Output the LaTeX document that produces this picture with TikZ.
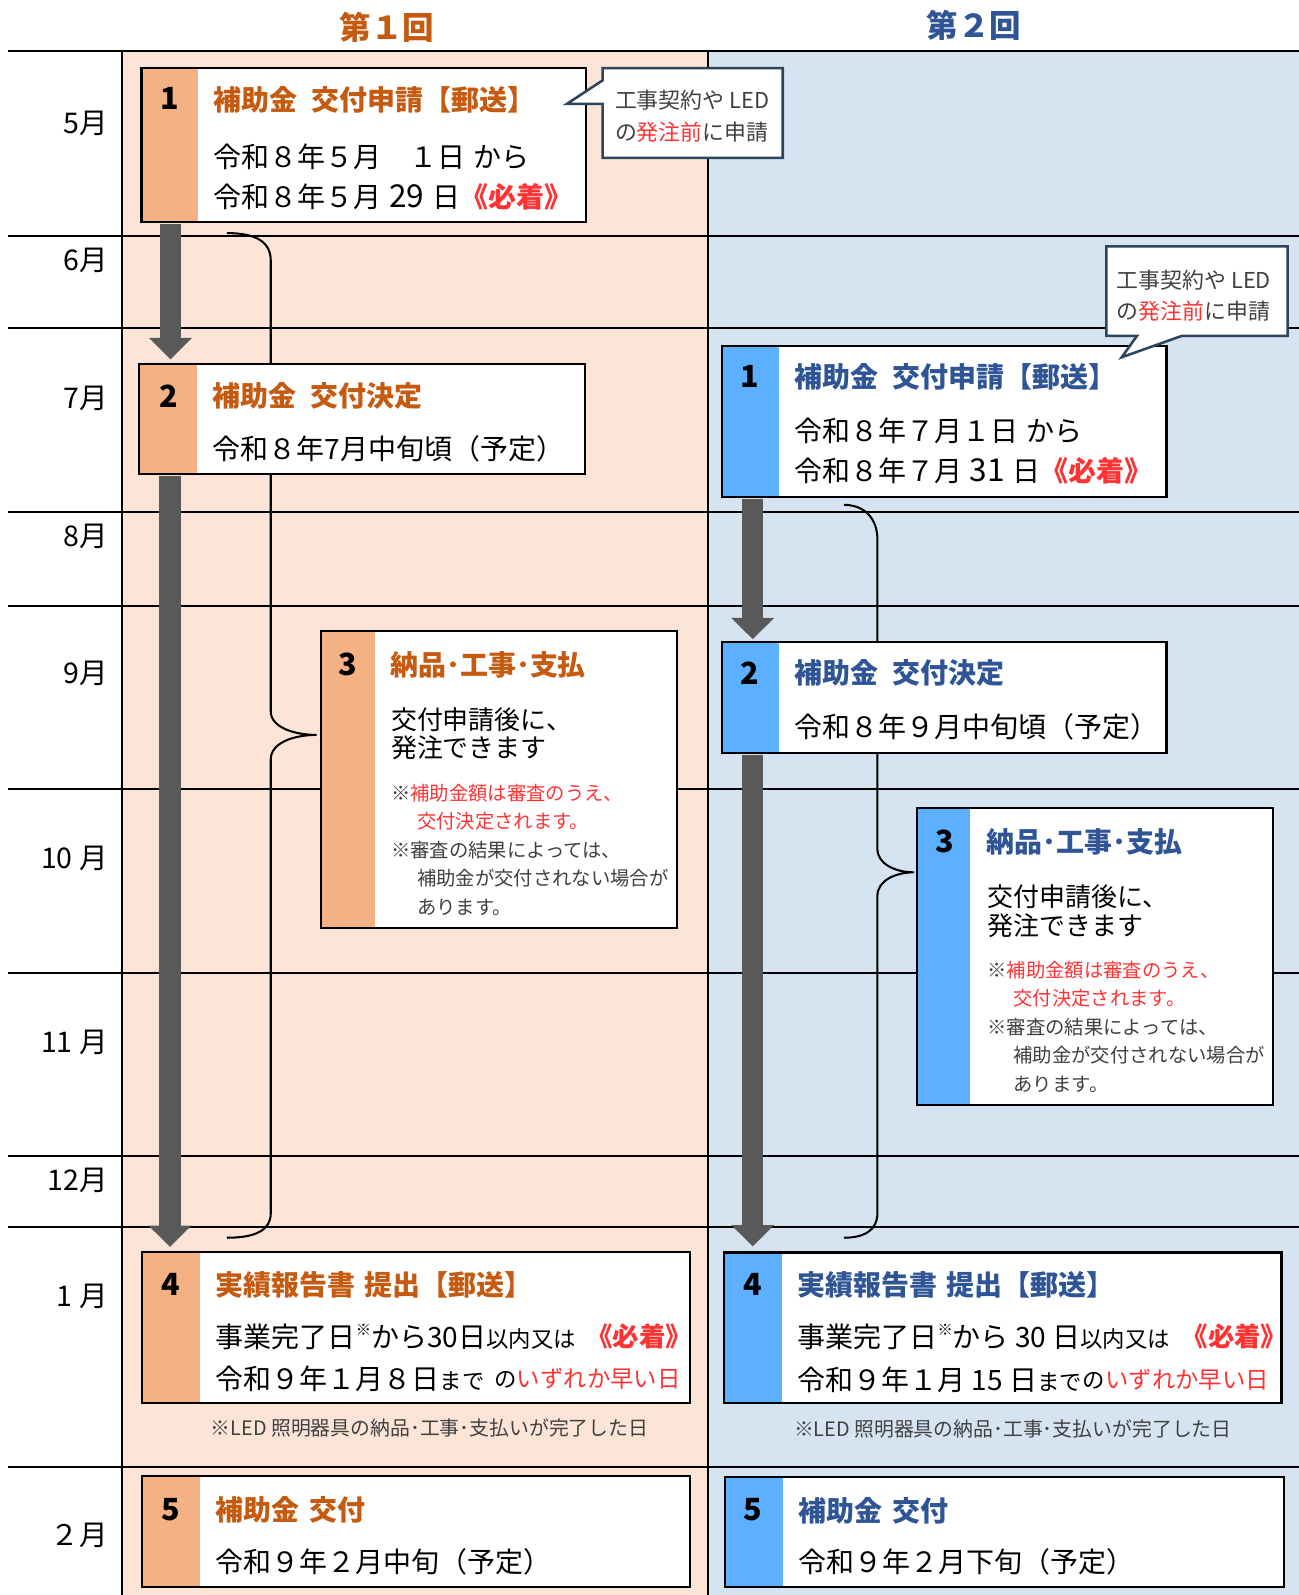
\documentclass[tikz,border=0pt]{standalone}
\usepackage{fontspec}
\setmainfont{Noto Sans CJK JP}
\usetikzlibrary{arrows.meta}
\definecolor{bgO}{RGB}{252,228,214}
\definecolor{bgB}{RGB}{214,228,242}
\definecolor{stO}{RGB}{244,177,131}
\definecolor{stB}{RGB}{92,176,255}
\definecolor{tO}{RGB}{197,90,17}
\definecolor{tB}{RGB}{47,85,151}
\definecolor{cRed}{RGB}{255,51,51}
\definecolor{cArr}{RGB}{89,89,89}
\definecolor{cCall}{RGB}{44,68,92}
\definecolor{cGray}{RGB}{64,64,64}
\newcommand\fs[1]{\fontsize{#1}{#1}\selectfont}
\newcommand\sups{\raisebox{0.42em}{\fs{15}※}}
\newcommand\dig[1]{\hspace{0.28em}{\fs{31}#1}\hspace{0.28em}}
\begin{document}
\begin{tikzpicture}[x=1pt,y=-1pt,
 grid/.style={line width=2pt, black},
 stepbox/.style={draw=black, line width=2pt, fill=white, inner sep=0, outer sep=0, anchor=north west},
 strip/.style={inner sep=0, outer sep=0, anchor=north west, draw=none},
 num/.style={inner sep=0, font=\fs{30}\bfseries},
 ttl/.style={anchor=west, inner sep=0, font=\fs{27.5}\bfseries},
 body/.style={anchor=west, inner sep=0, font=\fs{27.5}},
 bodyt/.style={anchor=west, inner sep=0, font=\fs{25.5}},
 small/.style={anchor=west, inner sep=0, font=\fs{19}, text=cGray},
 month/.style={anchor=east, inner sep=0, font=\fs{28}},
 calltxt/.style={anchor=west, inner sep=0, font=\fs{21.5}, text=cGray},
 call/.style={draw=cCall, line width=2.5pt, fill=white, line join=miter},
 bigarrow/.style={draw=cArr, line width=21pt, -{Triangle[width=41pt,length=21pt]}},
 brace/.style={line width=2pt, black},
 hdr/.style={inner sep=0, font=\fs{31}\bfseries},
 foot/.style={inner sep=0, font=\fs{19.5}, text=cGray},
 hit/.style={anchor=east, inner sep=0, font=\fs{26}\bfseries, text=cRed},
 early/.style={anchor=east, inner sep=0, font=\fs{22}},
]
\useasboundingbox (0,0) rectangle (1276,1567);
% backgrounds
\fill[bgO] (120,50) rectangle (696,1567);
\fill[bgB] (696,50) rectangle (1276,1567);
% grid
\foreach \yy in {50,232,322,503,595,775,956,1136,1205,1441}
  \draw[grid] (8,\yy) -- (1276,\yy);
\draw[grid] (120,50) -- (120,1567);
\draw[grid] (696,50) -- (696,1567);
% headers
\node[hdr, text=tO] (h1) at (380,27) {第１回};
\node[hdr, text=tB] (h2) at (957,25) {第２回};
% months
\node[month] (m5) at (106,121) {5月};
\node[month] (m6) at (106,256) {6月};
\node[month] (m7) at (106,391) {7月};
\node[month] (m8) at (106,527) {8月};
\node[month] (m9) at (106,662) {9月};
\node[month] (m10) at (106,843) {10 月};
\node[month] (m11) at (106,1024) {11 月};
\node[month] (m12) at (106,1160) {12月};
\node[month] (m1) at (106,1274) {1 月};
\node[month] (m2) at (106,1508) {２月};
% braces
\draw[brace] (223,229) .. controls (252,229) and (266,238) .. (266,256) -- (266,699)
  .. controls (266,714) and (288,722) .. (311,722)
  .. controls (288,722) and (266,730) .. (266,746) -- (266,1192)
  .. controls (266,1208) and (252,1216) .. (223,1216);
\draw[brace] (829,496) .. controls (850,496) and (862,510) .. (862,530) -- (862,834)
  .. controls (862,849) and (880,857) .. (898,857)
  .. controls (880,857) and (862,865) .. (862,880) -- (862,1192)
  .. controls (862,1208) and (850,1216) .. (829,1216);
% boxes left
\node[stepbox, minimum width=437pt, minimum height=151pt] (L1) at (139,67) {};
\node[strip, fill=stO, minimum width=55pt, minimum height=149pt] (L1s) at (140,68) {};
\node[stepbox, minimum width=438pt, minimum height=108pt] (L2) at (137,358) {};
\node[strip, fill=stO, minimum width=56pt, minimum height=106pt] (L2s) at (138,359) {};
\node[stepbox, minimum width=350pt, minimum height=292pt] (L3) at (315,620) {};
\node[strip, fill=stO, minimum width=52pt, minimum height=290pt] (L3s) at (316,621) {};
\node[stepbox, minimum width=538.5pt, minimum height=148pt] (L4) at (139.5,1230) {};
\node[strip, fill=stO, minimum width=55.5pt, minimum height=146pt] (L4s) at (140.5,1231) {};
\node[stepbox, minimum width=538.5pt, minimum height=109pt] (L5) at (139.5,1450) {};
\node[strip, fill=stO, minimum width=55.5pt, minimum height=107pt] (L5s) at (140.5,1451) {};
% boxes right
\node[stepbox, minimum width=437pt, minimum height=148pt] (R1) at (709,340) {};
\node[strip, fill=stB, minimum width=55pt, minimum height=146pt] (R1s) at (710,341) {};
\node[stepbox, minimum width=437pt, minimum height=109pt] (R2) at (709,631) {};
\node[strip, fill=stB, minimum width=55pt, minimum height=107pt] (R2s) at (710,632) {};
\node[stepbox, minimum width=350pt, minimum height=292pt] (R3) at (901,794) {};
\node[strip, fill=stB, minimum width=51pt, minimum height=290pt] (R3s) at (902,795) {};
\node[stepbox, minimum width=548pt, minimum height=147.5pt] (R4) at (711,1230.5) {};
\node[strip, fill=stB, minimum width=56.5pt, minimum height=145.5pt] (R4s) at (712,1231.5) {};
\node[stepbox, minimum width=549pt, minimum height=108pt] (R5) at (712,1451) {};
\node[strip, fill=stB, minimum width=56.5pt, minimum height=106pt] (R5s) at (713,1452) {};
% arrows
\draw[bigarrow, shorten <=3pt, shorten >=5pt] (L1s.south) -- (L1s.south |- L2.north);
\draw[bigarrow, shorten <=3pt, shorten >=5pt] ([xshift=1pt]L2s.south) -- ([xshift=1pt]L2s.south |- L4.north);
\draw[bigarrow, shorten <=3pt, shorten >=3pt] ([xshift=2pt]R1s.south) -- ([xshift=2pt]R1s.south |- R2.north);
\draw[bigarrow, shorten <=3pt, shorten >=6pt] ([xshift=2pt]R2s.south) -- ([xshift=2pt]R2s.south |- R4.north);
% callouts
\draw[call] (592,67) -- (769,67) -- (769,155) -- (592,155) -- (592,102) -- (557,102) -- (592,79) -- cycle;
\draw[call] (1087,242) -- (1265,242) -- (1265,330) -- (1161,330) -- (1102,351) -- (1117,330) -- (1087,330) -- cycle;
\node[calltxt] (c1a) at (604,98) {工事契約や LED};
\node[calltxt] (c1b) at (604,129.5) {の{\color{cRed}発注前}に申請};
\node[calltxt] (c2a) at (1097,275) {工事契約や LED};
\node[calltxt] (c2b) at (1097,306) {の{\color{cRed}発注前}に申請};
% L1
\node[num] (L1n) at (167,97) {1};
\node[ttl, text=tO] (L1t) at (209.5,98) {補助金\hspace{0.5em}交付申請【郵送】};
\node[body] (L1a) at (209.5,154) {令和８年５月　１日\hspace{0.3em}から};
\node[body] (L1b) at (209.5,193.5) {令和８年５月\dig{29}日{\color{cRed}\bfseries《必着》}};
% L2
\node[num] (L2n) at (166,389) {2};
\node[ttl, text=tO] (L2t) at (209,389) {補助金\hspace{0.5em}交付決定};
\node[body] (L2a) at (209,441) {令和８年7月中旬頃（予定）};
% L3
\node[num] (L3n) at (342,653) {3};
\node[ttl, text=tO] (L3t) at (383,653) {納品･工事･支払};
\node[bodyt] (L3a) at (384,707) {交付申請後に、};
\node[bodyt] (L3b) at (384,735) {発注できます};
\node[small] (L3c) at (384,779) {※{\color{cRed}補助金額は審査のうえ、}};
\node[small, text=cRed] (L3d) at (409.6,807) {交付決定されます。};
\node[small] (L3e) at (384,835) {※審査の結果によっては、};
\node[small] (L3f) at (409.6,862.5) {補助金が交付されない場合が};
\node[small] (L3g) at (409.6,891) {あります。};
% L4
\node[num] (L4n) at (168,1262) {4};
\node[ttl, text=tO] (L4t) at (212,1262) {実績報告書\hspace{0.3em}提出【郵送】};
\node[body] (L4a) at (212,1313) {事業完了日\sups から30日{\fs{22}以内又は}};
\node[hit] (L4b) at (680,1313) {《必着》};
\node[body] (L4c) at (212,1355) {令和９年１月８日{\fs{22}まで}};
\node[early] (L4d) at (669,1355) {の{\color{cRed}\fs{23}いずれか早い日}};
\node[foot] (L4f) at (422,1403) {※LED 照明器具の納品･工事･支払いが完了した日};
% L5
\node[num] (L5n) at (168,1483) {5};
\node[ttl, text=tO] (L5t) at (212,1483) {補助金\hspace{0.35em}交付};
\node[body] (L5a) at (212,1534) {令和９年２月中旬（予定）};
% R1
\node[num] (R1n) at (737,370) {1};
\node[ttl, text=tB] (R1t) at (780,370) {補助金\hspace{0.5em}交付申請【郵送】};
\node[body] (R1a) at (780,423) {令和８年７月１日\hspace{0.3em}から};
\node[body] (R1b) at (780,463) {令和８年７月\dig{31}日{\color{cRed}\bfseries《必着》}};
% R2
\node[num] (R2n) at (737,661) {2};
\node[ttl, text=tB] (R2t) at (780,661) {補助金\hspace{0.5em}交付決定};
\node[body] (R2a) at (780,714) {令和８年９月中旬頃（予定）};
% R3
\node[num] (R3n) at (928,827) {3};
\node[ttl, text=tB] (R3t) at (969,827) {納品･工事･支払};
\node[bodyt] (R3a) at (970,881) {交付申請後に、};
\node[bodyt] (R3b) at (970,909) {発注できます};
\node[small] (R3c) at (970,953) {※{\color{cRed}補助金額は審査のうえ、}};
\node[small, text=cRed] (R3d) at (995.6,981) {交付決定されます。};
\node[small] (R3e) at (970,1009) {※審査の結果によっては、};
\node[small] (R3f) at (995.6,1036.5) {補助金が交付されない場合が};
\node[small] (R3g) at (995.6,1065) {あります。};
% R4
\node[num] (R4n) at (740,1262) {4};
\node[ttl, text=tB] (R4t) at (783.5,1262) {実績報告書\hspace{0.3em}提出【郵送】};
\node[body] (R4a) at (783.5,1313) {事業完了日\sups から 30 日{\fs{22}以内又は}};
\node[hit] (R4b) at (1265,1313) {《必着》};
\node[body] (R4c) at (783.5,1356) {令和９年１月 15 日{\fs{22}まで}};
\node[early] (R4d) at (1247,1356) {の{\color{cRed}\fs{23}いずれか早い日}};
\node[foot] (R4f) at (995,1404) {※LED 照明器具の納品･工事･支払いが完了した日};
% R5
\node[num] (R5n) at (740,1483) {5};
\node[ttl, text=tB] (R5t) at (784.6,1484) {補助金\hspace{0.35em}交付};
\node[body] (R5a) at (784.6,1534) {令和９年２月下旬（予定）};
\end{tikzpicture}
\end{document}
